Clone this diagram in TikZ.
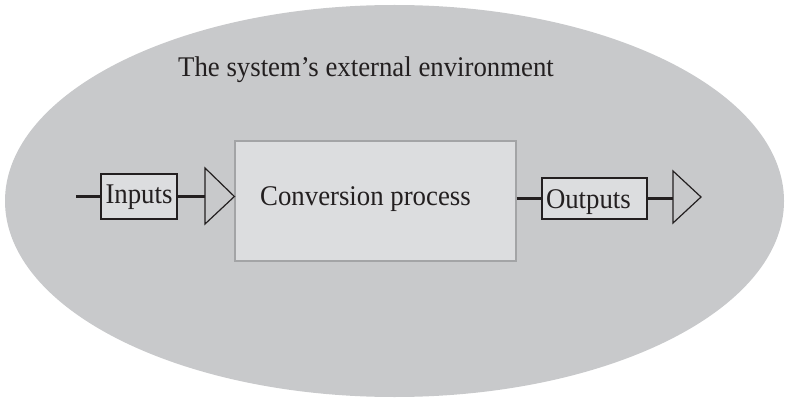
\documentclass[tikz,border=0pt]{standalone}
\usepackage{fontspec}
\setmainfont[FakeStretch=0.94]{Liberation Serif}
\definecolor{envgrey}{HTML}{C8C9CB}
\definecolor{boxgrey}{HTML}{DCDDDF}
\definecolor{procedge}{HTML}{A3A4A6}
\definecolor{ink}{HTML}{231F20}
\tikzset{
  lbl/.style={font=\fontsize{28.5}{32}\selectfont, text=ink},
  freelbl/.style={lbl, inner sep=0pt, anchor=base west},
  flowbox/.style={draw=ink, fill=boxgrey, line width=1.8pt, inner sep=0pt, lbl},
  link/.style={draw=ink, line width=2.2pt},
  arrowhead/.style={draw=ink, line width=1.2pt, line join=miter}
}
\begin{document}
\begin{tikzpicture}[x=1pt, y=-1pt]
\useasboundingbox (0,0) rectangle (786,398);

% surrounding environment
\fill[envgrey] (394.5,201) ellipse [x radius=389.5, y radius=196];
\node[freelbl] (envtext) at (178,77) {The system’s external environment};

% conversion process
\node[draw=procedge, fill=boxgrey, line width=1.2pt, minimum width=281pt, minimum height=120pt, inner sep=0pt] (proc) at (375.5,201) {};
\node[freelbl] (proctext) at (260,205) {Conversion process};

% inputs side
\node[flowbox, minimum width=76pt, minimum height=45pt, text height=19pt, text depth=6pt] (inputs) at (139,196.5) {Inputs};
\coordinate (infree) at (76,196.5);
\coordinate (intri) at (205,196.5);
\draw[link] (infree) -- (inputs.west);
\draw[link] (inputs.east) -- (intri);
\draw[arrowhead] (205,168) -- (proc.west |- intri) -- (205,224) -- cycle;

% outputs side
\node[flowbox, minimum width=105pt, minimum height=41pt, text width=97pt, align=left, inner xsep=4pt, text height=23pt, text depth=4pt] (outputs) at (594.5,198.5) {Outputs};
\coordinate (outtri) at (673,198.5);
\draw[link] (outputs.west -| proc.east) -- (outputs.west);
\draw[link] (outputs.east) -- (outtri);
\draw[arrowhead] (673,171) -- (701,197) -- (673,223) -- cycle;
\end{tikzpicture}
\end{document}
